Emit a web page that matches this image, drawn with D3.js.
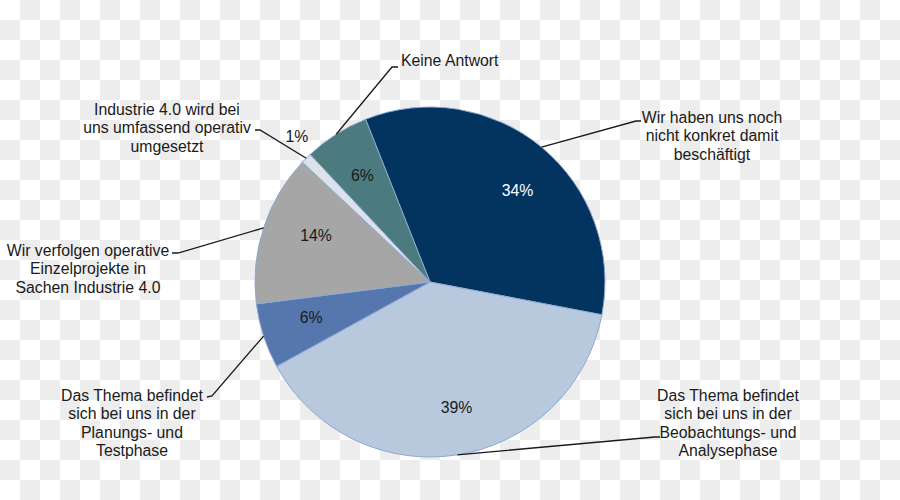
<!DOCTYPE html>
<html><head><meta charset="utf-8">
<script src="https://cdn.jsdelivr.net/npm/d3@7/dist/d3.min.js"></script>
<style>body{margin:0;background:#fff}svg{display:block}</style>
</head><body>
<svg id="c" width="900" height="500"></svg>
<script>
// Data (clockwise, starting with dark blue slice)
const categories = [
  "Wir haben uns noch nicht konkret damit beschäftigt",
  "Das Thema befindet sich bei uns in der Beobachtungs- und Analysephase",
  "Das Thema befindet sich bei uns in der Planungs- und Testphase",
  "Wir verfolgen operative Einzelprojekte in Sachen Industrie 4.0",
  "Industrie 4.0 wird bei uns umfassend operativ umgesetzt",
  "Keine Antwort"
];
const values = [34, 39, 6, 14, 1, 6];
const valueLabels = ["34%", "39%", "6%", "14%", "1%", "6%"];
const labelLines = [
  ["Wir haben uns noch", "nicht konkret damit", "beschäftigt"],
  ["Das Thema befindet", "sich bei uns in der", "Beobachtungs- und", "Analysephase"],
  ["Das Thema befindet", "sich bei uns in der", "Planungs- und", "Testphase"],
  ["Wir verfolgen operative", "Einzelprojekte in", "Sachen Industrie 4.0"],
  ["Industrie 4.0 wird bei", "uns umfassend operativ", "umgesetzt"],
  ["Keine Antwort"]
];
const colors = ["#03345f", "#b9c9dd", "#5677ad", "#a6a6a6", "#dce2ea", "#4b7b7e"];

const svg = d3.select("#c");
// checkerboard background
const defs = svg.append("defs");
const pat = defs.append("pattern").attr("id","chk").attr("width",40).attr("height",40).attr("patternUnits","userSpaceOnUse");
pat.append("rect").attr("width",40).attr("height",40).attr("fill","#ffffff");
pat.append("rect").attr("x",20).attr("y",0).attr("width",20).attr("height",20).attr("fill","#ededed");
pat.append("rect").attr("x",0).attr("y",20).attr("width",20).attr("height",20).attr("fill","#ededed");
svg.append("rect").attr("width",900).attr("height",500).attr("fill","url(#chk)");

const cx = 430, cy = 282, R = 175;
const startA = -21.6 * Math.PI / 180;
const pie = d3.pie().sort(null).value(d => d).startAngle(startA).endAngle(startA + 2*Math.PI);
const arcs = pie(values);
const arc = d3.arc().innerRadius(0).outerRadius(R);
const g = svg.append("g").attr("transform", `translate(${cx},${cy})`);

g.selectAll("path.s").data(arcs).join("path").attr("class","s")
  .attr("d", arc).attr("fill", (d,i) => colors[i])
  .attr("stroke", "#8ea8d2").attr("stroke-width", 1).attr("stroke-linejoin","round");

const font = "'Liberation Sans', Arial, sans-serif";
const fs = 15.8;
const pt = (a, r) => [r * Math.sin(a), -r * Math.cos(a)];
const mid = d => (d.startAngle + d.endAngle) / 2;

// percentage labels
const pctR = [127, 128, 124, 123, 197, 126];
const pctDA = [4, -3, 1.5, 4, 2.5, 0].map(v => v*Math.PI/180);
g.selectAll("text.p").data(arcs).join("text").attr("class","p")
  .attr("x", (d,i) => pt(mid(d)+pctDA[i], pctR[i])[0])
  .attr("y", (d,i) => pt(mid(d)+pctDA[i], pctR[i])[1])
  .attr("text-anchor","middle").attr("dominant-baseline","central")
  .attr("font-family", font).attr("font-size", fs)
  .attr("fill", (d,i) => i === 0 ? "#ffffff" : "#1a1a1a")
  .text((d,i) => valueLabels[i]);

// category label layout: text block center x, first line center y, anchor, leader elbow
const layout = [
  {x: 712, y: 117, anchor: "middle", elbow: [636, -161], end: [641, -161]},
  {x: 728, y: 395, anchor: "middle", elbow: [655, 155], end: [660, 155]},
  {x: 132, y: 395, anchor: "middle", elbow: [212, 114], end: [207, 115]},
  {x: 88,  y: 250, anchor: "middle", elbow: [178, -29], end: [172, -29]},
  {x: 167, y: 109, anchor: "middle", elbow: [260, -152], end: [255, -152]},
  {x: 401, y: 60,  anchor: "start",  elbow: [392, -215], end: [398, -215]}
];
const lh = 18.6;

arcs.forEach((d, i) => {
  const L = layout[i];
  const p0 = pt(mid(d), R);
  const e = [L.elbow[0] - cx, L.elbow[1]];
  const f = [L.end[0] - cx, L.end[1]];
  g.append("polyline")
    .attr("points", [p0, e, f].map(p => p.join(",")).join(" "))
    .attr("fill","none").attr("stroke","#1a1a1a").attr("stroke-width",1.3);
  const t = svg.append("text")
    .attr("font-family", font).attr("font-size", fs).attr("fill","#1a1a1a")
    .attr("text-anchor", L.anchor);
  labelLines[i].forEach((s, k) => {
    t.append("tspan").attr("x", L.x).attr("y", L.y + k*lh).attr("dominant-baseline","central").text(s);
  });
});
</script>
</body></html>
